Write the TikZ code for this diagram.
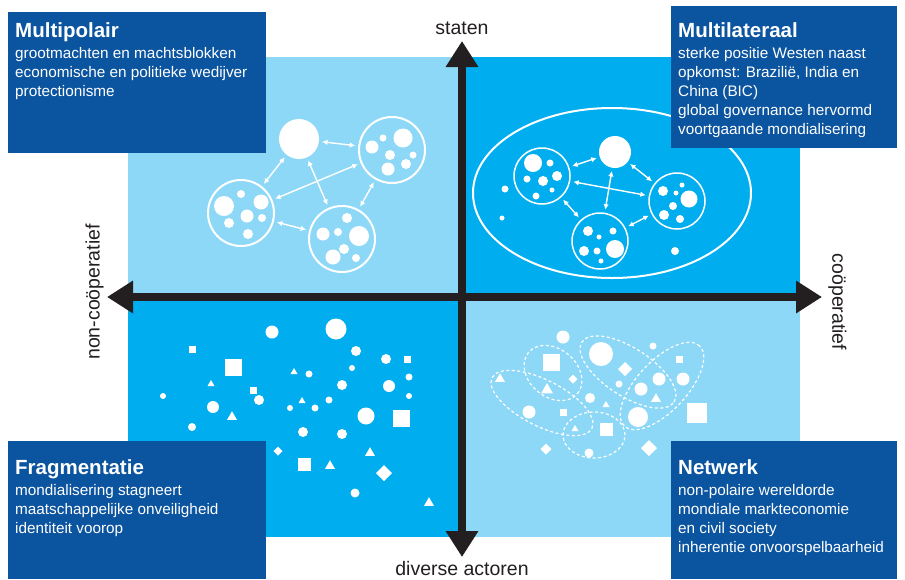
\documentclass[tikz,border=0pt]{standalone}
\usepackage{fontspec}
\setmainfont{Liberation Sans}
\usepackage{tikz}
\usetikzlibrary{arrows.meta, positioning, shapes.geometric}
\definecolor{licht}{RGB}{142,216,247}
\definecolor{midden}{RGB}{0,174,239}
\definecolor{donker}{RGB}{11,84,159}
\definecolor{aszwart}{RGB}{35,31,32}
\newcommand{\kopfont}{\fontsize{20.5}{22}\selectfont\bfseries}

\tikzset{
  vak/.style={fill=donker, anchor=north west, inner sep=0pt},
  vaktekst/.style={text=white, align=left, inner sep=0pt, font=\fontsize{15.3}{19}\selectfont},
  aslabel/.style={text=aszwart, inner sep=0pt, font=\fontsize{19.5}{22}\selectfont},
  aspijl/.style={draw=aszwart, line width=8pt, {Triangle[width=31pt,length=26pt]}-{Triangle[width=31pt,length=26pt]}},
  bol/.style={circle, fill=white, inner sep=0pt},
  ring/.style={circle, draw=white, line width=2pt, inner sep=0pt, minimum size=66pt},
  link/.style={draw=white, line width=1.4pt, {Latex[length=5.5pt,width=5.5pt]}-{Latex[length=5.5pt,width=5.5pt]}, shorten <=3pt, shorten >=3pt},
  wolk/.style={ellipse, draw=white, line width=1.2pt, dash pattern=on 3pt off 2.5pt, inner sep=0pt}
}

\begin{document}
\begin{tikzpicture}[x=1pt, y=-1pt]
    \useasboundingbox (0,0) rectangle (905,579);
    \fill[white] (0,0) rectangle (905,579);

    % kwadranten
    \fill[licht] (128,57) rectangle (462,297);
    \fill[midden] (462,57) rectangle (800,297);
    \fill[midden] (128,297) rectangle (462,537);
    \fill[licht] (462,297) rectangle (800,537);

    % multipolair
    \node[bol, minimum size=40pt] (macht) at (299,139) {};
    \node[ring] (blokR) at (392,150) {};
    \node[ring] (blokL) at (241,213) {};
    \node[ring] (blokO) at (342,239) {};
    \foreach \x/\y/\r in {403/138/9.5, 372/147/6.5, 383/138/3.5, 390/155/5, 413/155/3.5, 406/164/5, 388/169/6.5,
        224/206/10, 241/194/4, 261/202/7.5, 247/216/6.5, 262/218/4, 229/223/5, 248/234/5,
        347/218/5, 323/234/6.5, 338/232/4, 359/236/10, 344/249/5, 333/257/7.5, 356/258/4}
        \fill[white] (\x,\y) circle (\r pt);
    \draw[link] (macht) -- (blokR);
    \draw[link] (macht) -- (blokL);
    \draw[link] (macht) -- (blokO);
    \draw[link] (blokL) -- (blokR);
    \draw[link] (blokL) -- (blokO);
    \draw[link] (blokO) -- (blokR);

    % multilateraal
    \node[ellipse, draw=white, line width=2pt, inner sep=0pt, minimum width=278pt, minimum height=170pt] (wereld) at (612,193) {};
    \node[bol, minimum size=32pt] (kern) at (615,152) {};
    \node[ring, line width=1.5pt, minimum size=56pt] (groepL) at (542,176) {};
    \node[ring, line width=1.5pt, minimum size=56pt] (groepR) at (677,201) {};
    \node[ring, line width=1.5pt, minimum size=56pt] (groepO) at (600,241) {};
    \foreach \x/\y/\r in {533/163/9, 550/163/3.5, 527/179/3.5, 543/181/5, 557/176/5, 552/190/2.5, 536/196/3.5,
        663/191/5, 682/185/2.5, 676/193/2.5, 689/199/8.5, 673/206/4, 664/215/5, 680/219/4,
        588/231/5, 599/237/2.5, 613/231/3.5, 615/249/9, 584/251/5, 597/251/3.5, 601/261/2.5,
        505/189/3.5, 502/218/2.5, 675/251/4}
        \fill[white] (\x,\y) circle (\r pt);
    \draw[link] (kern) -- (groepL);
    \draw[link] (kern) -- (groepR);
    \draw[link] (kern) -- (groepO);
    \draw[link] (groepL) -- (groepR);
    \draw[link] (groepL) -- (groepO);
    \draw[link] (groepO) -- (groepR);

    % fragmentatie
    \foreach \x/\y/\r in {272/332/6.5, 336/329/10.5, 356/351/5, 386/359/5, 352/368/3, 309/374/3.5, 409/377/3.5,
        342/385/5, 389/386/6, 163/396/3, 409/396/3, 259/400/5, 329/400/3.5, 213/407/6, 290/408/3,
        315/408/3.5, 366/416/8.5, 192/427/4, 303/432/5, 342/434/5, 355/493/4.5}
        \fill[white] (\x,\y) circle (\r pt);
    \foreach \x/\y/\s in {192/349/7, 233/367/17, 253/390/7, 407/359/7, 401/418/17, 304/464/13}
        \fill[white] ({\x-\s/2},{\y-\s/2}) rectangle ++(\s,\s);
    \foreach \x/\y/\s in {294/372/7, 211/384/7, 302/401/7, 232/417/10, 370/453/10, 330/466/10, 429/503/10}
        \fill[white] (\x,\y) ++(0,{-0.577*\s}) -- ++({0.5*\s},{0.866*\s}) -- ++(-\s,0) -- cycle;
    \foreach \x/\y/\s in {278/451/9, 384/473/16}
        \fill[white] (\x,{\y-\s/2}) -- ++({\s/2},{\s/2}) -- ++({-\s/2},{\s/2}) -- ++({-\s/2},{-\s/2}) -- cycle;

    % netwerk
    \foreach \x/\y/\r in {563/337/6.5, 601/354/12, 653/346/3.5, 619/384/3.5, 641/389/6.5, 659/379/6.5,
        683/379/6.5, 590/398/5, 529/412/6.5, 638/417/10, 589/453/4.5}
        \fill[white] (\x,\y) circle (\r pt);
    \foreach \x/\y/\s in {551/362/17, 679/359/7, 563/412/7, 606/429/13, 697/413/20}
        \fill[white] ({\x-\s/2},{\y-\s/2}) rectangle ++(\s,\s);
    \foreach \x/\y/\s in {500/379/10, 547/390/12, 606/405/7, 656/399/10, 575/429/7}
        \fill[white] (\x,\y) ++(0,{-0.577*\s}) -- ++({0.5*\s},{0.866*\s}) -- ++(-\s,0) -- cycle;
    \foreach \x/\y/\s in {573/379/9, 625/369/14, 546/449/11, 649/448/16}
        \fill[white] (\x,{\y-\s/2}) -- ++({\s/2},{\s/2}) -- ++({-\s/2},{\s/2}) -- ++({-\s/2},{-\s/2}) -- cycle;
    \node[wolk, minimum width=112pt, minimum height=46pt, rotate=-27] (w1) at (542,403) {};
    \node[wolk, minimum width=64pt, minimum height=48pt, rotate=-40] (w2) at (553,373) {};
    \node[wolk, minimum width=110pt, minimum height=48pt, rotate=-33] (w3) at (628,372) {};
    \node[wolk, minimum width=110pt, minimum height=50pt, rotate=47] (w4) at (662,386) {};
    \node[wolk, minimum width=62pt, minimum height=46pt] (w5) at (594,435) {};

    % assen
    \coordinate (boven) at (462,41);
    \coordinate (onder) at (462,557);
    \coordinate (links) at (107,297);
    \coordinate (rechts) at (822,297);
    \draw[aspijl] (onder) -- (boven);
    \draw[aspijl] (links) -- (rechts);
    \node[aslabel] (staten) at (462,28.5) {staten};
    \node[aslabel] (actoren) at (462,568.5) {diverse actoren};
    \node[aslabel, rotate=90] (noncoop) at (94.5,292) {non-coöperatief};
    \node[aslabel, rotate=-90] (coop) at (837.5,302) {coöperatief};

    % tekstvakken
    \node[vak, minimum width=258pt, minimum height=141pt] (multipolair) at (8,12) {};
    \node[vak, minimum width=226pt, minimum height=142pt] (multilateraal) at (671,6) {};
    \node[vak, minimum width=258pt, minimum height=138pt] (fragmentatie) at (8,441) {};
    \node[vak, minimum width=226pt, minimum height=138pt] (netwerk) at (671,441) {};
    \node[vaktekst, below right=10pt and 7pt of multipolair.north west] (tekstMP) {{\kopfont Multipolair}\\[2pt]
        grootmachten en machtsblokken\\economische en politieke wedijver\\protectionisme};
    \node[vaktekst, below right=16pt and 7pt of multilateraal.north west] (tekstML) {{\kopfont Multilateraal}\\[2pt]
        sterke positie Westen naast\\opkomst: Brazilië, India en\\China (BIC)\\global governance hervormd\\voortgaande mondialisering};
    \node[vaktekst, below right=18pt and 7pt of fragmentatie.north west] (tekstFR) {{\kopfont Fragmentatie}\\[2pt]
        mondialisering stagneert\\maatschappelijke onveiligheid\\identiteit voorop};
    \node[vaktekst, below right=18pt and 7pt of netwerk.north west] (tekstNW) {{\kopfont Netwerk}\\[2pt]
        non-polaire wereldorde\\mondiale markteconomie\\en civil society\\inherentie onvoorspelbaarheid};
\end{tikzpicture}
\end{document}
